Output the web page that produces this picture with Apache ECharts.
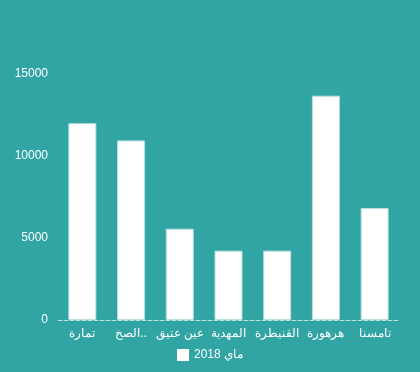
<!DOCTYPE html>
<html><head><meta charset="utf-8">
<script src="https://cdn.jsdelivr.net/npm/echarts@6/dist/echarts.min.js"></script>
<style>html,body{margin:0;padding:0;background:#31a4a4}#c{width:420px;height:372px}</style>
</head><body><div id="c"></div>
<script>
var categories = ["تمارة", "الصخيرات", "عين عتيق", "المهدية", "القنيطرة", "هرهورة", "تامسنا"];
var values = [12000, 10950, 5570, 4230, 4230, 13680, 6830];
var seriesName = "ماي 2018";
var truncatedCategory = "الصخيرات";
var chart = echarts.init(document.getElementById('c'));
var axisData = categories.map(function (c) {
  return c === truncatedCategory
    ? {value: c, textStyle: {width: 47, overflow: 'truncate', ellipsis: '..'}}
    : c;
});
chart.setOption({
  backgroundColor: '#31a4a4',
  animation: false,
  textStyle: {fontFamily: 'Liberation Sans, Arial, sans-serif'},
  legend: {
    data: [seriesName], bottom: 6, left: 'center', icon: 'rect', itemWidth: 12, itemHeight: 12,
    itemStyle: {borderWidth: 0},
    textStyle: {color: '#fff', fontSize: 12}
  },
  grid: {left: 58, right: 21, top: 74, bottom: 52},
  xAxis: {
    type: 'category', data: axisData,
    axisLine: {lineStyle: {color: '#bfe2e2', type: 'dashed'}},
    axisTick: {show: false},
    axisLabel: {color: '#fff', fontSize: 12, interval: 0}
  },
  yAxis: {
    type: 'value', min: 0, max: 15000, interval: 5000,
    axisLine: {show: false}, axisTick: {show: false},
    splitLine: {show: false},
    axisLabel: {color: '#fff', fontSize: 12, margin: 10, formatter: function (v) { return String(v); }}
  },
  series: [{
    name: seriesName, type: 'bar', data: values, barWidth: 28,
    itemStyle: {color: '#fff', borderColor: '#b8dede', borderWidth: 1}
  }]
});
</script></body></html>
